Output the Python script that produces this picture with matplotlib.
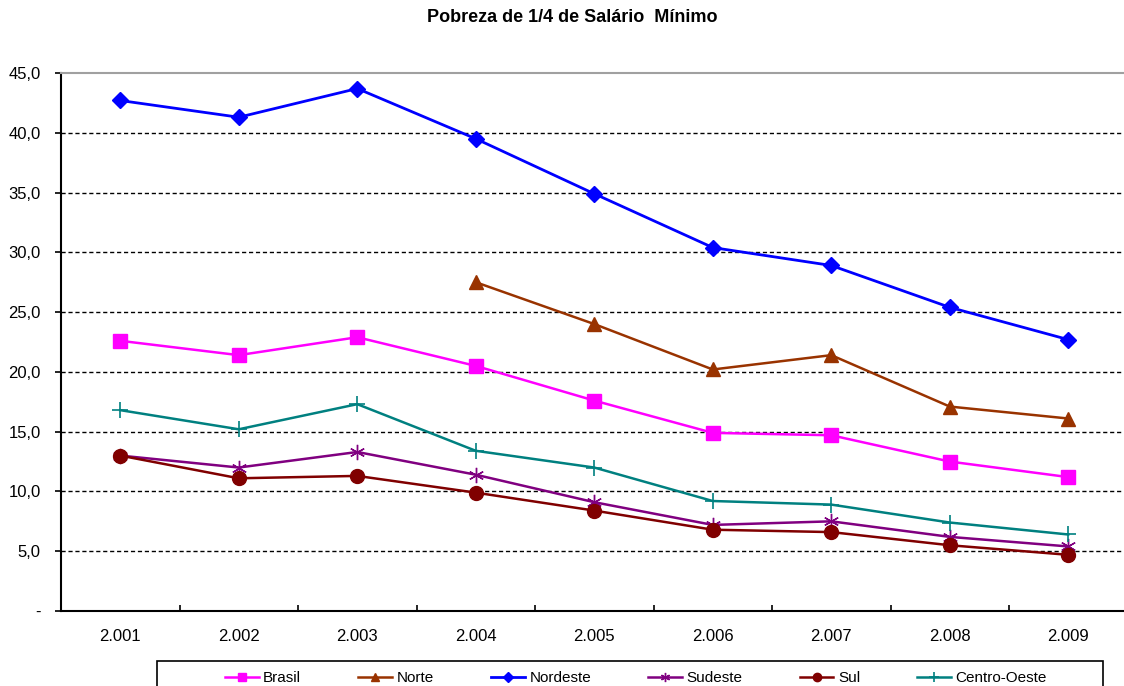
import numpy as np
import matplotlib
matplotlib.use("Agg")
import matplotlib.pyplot as plt
from matplotlib.patches import Rectangle

plt.rcParams['font.family'] = ['Liberation Sans', 'DejaVu Sans']

# data
anos = ["2.001", "2.002", "2.003", "2.004", "2.005", "2.006", "2.007", "2.008", "2.009"]
brasil = [22.6, 21.4, 22.9, 20.5, 17.6, 14.9, 14.7, 12.5, 11.2]
norte = [np.nan, np.nan, np.nan, 27.5, 24.0, 20.2, 21.4, 17.1, 16.1]
nordeste = [42.7, 41.3, 43.7, 39.5, 34.9, 30.4, 28.9, 25.4, 22.7]
sudeste = [13.0, 12.0, 13.3, 11.4, 9.1, 7.2, 7.5, 6.2, 5.4]
sul = [13.0, 11.1, 11.3, 9.9, 8.4, 6.8, 6.6, 5.5, 4.7]
centro_oeste = [16.8, 15.2, 17.3, 13.4, 12.0, 9.2, 8.9, 7.4, 6.4]

W, H = 1124, 686
fig = plt.figure(figsize=(W / 100, H / 100), dpi=100)
# plot area runs past the right edge, like the original screenshot
ax = fig.add_axes([61 / W, (H - 611) / H, 9 * 118.5 / W, 538 / H])

x = np.arange(len(anos))
ax.plot(x, brasil, color='#FF00FF', lw=1.8, marker='s', ms=10, label='Brasil', zorder=3)
ax.plot(x, norte, color='#993300', lw=1.8, marker='^', ms=10, label='Norte', zorder=3)
ax.plot(x, nordeste, color='#0000FF', lw=2.0, marker='D', ms=8, label='Nordeste', zorder=3)
ax.plot(x, sudeste, color='#800080', lw=1.8, marker=(6, 2, 0), ms=11, mew=1.0, label='Sudeste', zorder=3)
ax.plot(x, sul, color='#800000', lw=1.8, marker='o', ms=10, label='Sul', zorder=3)
ax.plot(x, centro_oeste, color='#008080', lw=1.8, marker='+', ms=12, mew=1.2, label='Centro-Oeste', zorder=3)

ax.set_xlim(-0.5, len(anos) - 0.5)
ax.set_ylim(0, 45)

yt = np.arange(0, 50, 5)
ax.set_yticks(yt)
ax.set_yticklabels(['-'] + [f"{v:.1f}".replace('.', ',') for v in yt[1:]])
for v in yt[1:-1]:
    ax.axhline(v, color='black', lw=1.0, ls=(0, (3, 2)), zorder=1)

ax.set_xticks(np.arange(-0.5, len(anos), 1.0))
ax.set_xticklabels([])
ax.set_xticks(x, minor=True)
ax.set_xticklabels(anos, minor=True)
ax.tick_params(axis='x', which='minor', length=0, pad=13, labelsize=12)
ax.tick_params(axis='x', which='major', direction='in', length=4, width=1.2)
ax.tick_params(axis='y', direction='out', length=4.5, width=1.2, labelsize=12, pad=10)

for s in ['left', 'bottom']:
    ax.spines[s].set_linewidth(1.5)
ax.spines['top'].set_color('#A0A0A0')
ax.spines['top'].set_linewidth(1.5)
ax.spines['right'].set_visible(False)

fig.text(572 / W, 1 - 17 / H, 'Pobreza de 1/4 de Salário  Mínimo', ha='center', va='center',
         fontsize=13, fontweight='bold')

# legend box, cut off at the bottom like the original
fig.patches.append(Rectangle((157 / W, -0.02), (1103 - 157) / W, 0.02 + (H - 661) / H,
                             transform=fig.transFigure, fill=False, edgecolor='black', lw=1.2))
leg = fig.legend(loc='center', ncol=6, bbox_to_anchor=(636 / W, 1 - 678 / H),
                 fontsize=11, frameon=False, handlelength=2.2, handletextpad=0.3,
                 columnspacing=3.75, markerscale=0.6, borderpad=0)

fig.savefig('out.png', dpi=100)
